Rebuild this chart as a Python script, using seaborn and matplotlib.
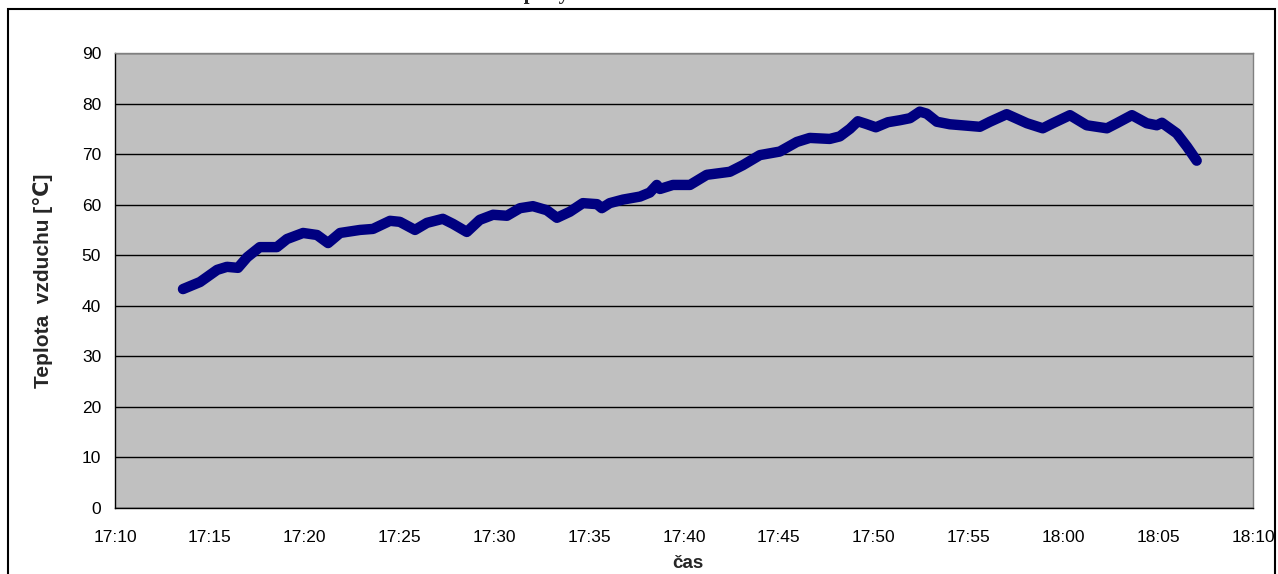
import pandas as pd
import matplotlib
matplotlib.use("Agg")
import matplotlib.pyplot as plt
import matplotlib.dates as mdates
from matplotlib.patches import Rectangle
import seaborn as sns

sns.set_style("white")
plt.rcParams["font.family"] = ["Liberation Sans", "DejaVu Sans"]

# =========================
# DATA
# =========================
times = [
    "17:13:35", "17:14:29", "17:15:23", "17:15:54", "17:16:29", "17:16:58",
    "17:17:38", "17:18:32", "17:19:04", "17:19:55", "17:20:39", "17:21:14",
    "17:21:52", "17:22:55", "17:23:36", "17:24:30", "17:25:01", "17:25:49",
    "17:26:27", "17:27:17", "17:27:49", "17:28:33", "17:29:14", "17:29:56",
    "17:30:40", "17:31:21", "17:32:02", "17:32:46", "17:33:18", "17:33:59",
    "17:34:40", "17:35:25", "17:35:40", "17:36:05", "17:36:47", "17:37:41",
    "17:38:12", "17:38:34", "17:38:44", "17:39:25", "17:40:19", "17:41:12",
    "17:42:25", "17:43:06", "17:44:00", "17:45:03", "17:45:57", "17:46:38",
    "17:47:41", "17:48:13", "17:48:45", "17:49:10", "17:49:35", "17:50:07",
    "17:50:45", "17:51:23", "17:51:55", "17:52:26", "17:52:48", "17:53:20",
    "17:54:01", "17:55:36", "17:56:08", "17:57:01", "17:58:05", "17:58:55",
    "17:59:27", "18:00:21", "18:01:14", "18:02:18", "18:02:49", "18:03:37",
    "18:04:24", "18:04:56", "18:05:12", "18:05:59", "18:06:31", "18:07:02",
]
temps = [
    43.3, 44.7, 47.1, 47.7, 47.5, 49.6,
    51.6, 51.6, 53.2, 54.4, 54.0, 52.4,
    54.4, 55.0, 55.2, 56.8, 56.6, 55.0,
    56.4, 57.2, 56.2, 54.6, 57.0, 58.0,
    57.8, 59.3, 59.7, 58.9, 57.4, 58.6,
    60.3, 60.1, 59.3, 60.3, 61.0, 61.6,
    62.4, 63.9, 63.1, 63.9, 63.9, 65.9,
    66.5, 67.8, 69.8, 70.5, 72.4, 73.2,
    73.0, 73.5, 75.0, 76.5, 76.0, 75.3,
    76.3, 76.7, 77.1, 78.4, 78.0, 76.4,
    75.9, 75.4, 76.4, 77.9, 76.1, 75.1,
    76.1, 77.7, 75.7, 75.1, 76.1, 77.7,
    76.1, 75.7, 76.2, 74.1, 71.5, 68.7,
]
x_start = "17:10"
x_end = "18:10"
y_ticks = list(range(0, 91, 10))

title = "Průběh teploty vzduchu v sušárně"
y_label = "Teplota  vzduchu [℃]"
x_label = "čas"

day = "2000-01-01 "
df = pd.DataFrame({
    "cas": pd.to_datetime([day + t for t in times]),
    "teplota": temps,
})

# =========================
# PLOT
# =========================
fig = plt.figure(figsize=(12.78, 5.74), dpi=100)
ax = fig.add_axes([0.0900, 0.1150, 0.8904, 0.7927])
ax.set_facecolor("#C0C0C0")

sns.lineplot(data=df, x="cas", y="teplota", ax=ax, color="#000080",
             linewidth=7.5, solid_capstyle="round", solid_joinstyle="round")

ax.set_xlim(pd.Timestamp(day + x_start), pd.Timestamp(day + x_end))
ax.set_ylim(0, 90)
ax.set_yticks(y_ticks)
ax.xaxis.set_major_locator(mdates.MinuteLocator(byminute=range(0, 60, 5)))
ax.xaxis.set_major_formatter(mdates.DateFormatter("%H:%M"))

ax.yaxis.grid(True, color="black", linewidth=1)
ax.xaxis.grid(False)
ax.set_axisbelow(True)

for side in ["left", "bottom"]:
    ax.spines[side].set_color("black")
    ax.spines[side].set_linewidth(1)
for side in ["top", "right"]:
    ax.spines[side].set_color("#808080")
    ax.spines[side].set_linewidth(1)

ax.tick_params(axis="both", direction="out", length=5, width=1,
               color="black", labelsize=12.5, labelcolor="black")
ax.tick_params(axis="x", pad=11)
ax.tick_params(axis="y", pad=5)

ax.set_xlabel(x_label, fontsize=13.5, fontweight="bold")
ax.set_ylabel(y_label, fontsize=15, fontweight="bold")
ax.xaxis.label.set_va("center")
ax.xaxis.set_label_coords(0.5035, -0.121)
ax.yaxis.set_label_coords(-0.0545, 0.5)

# title sits above the visible area, only descenders show
fig.text(0.46, 1.0017, title, ha="center", va="baseline", fontsize=15,
         fontweight="bold", family=["Liberation Serif", "DejaVu Serif"])

# outer chart frame
fig.patches.append(Rectangle((8 / 1278, -0.1), 1267 / 1278, 1.1 - 9.5 / 574,
                             transform=fig.transFigure, fill=False,
                             edgecolor="black", linewidth=1.5))

plt.savefig("out.png", dpi=100)
plt.close()
